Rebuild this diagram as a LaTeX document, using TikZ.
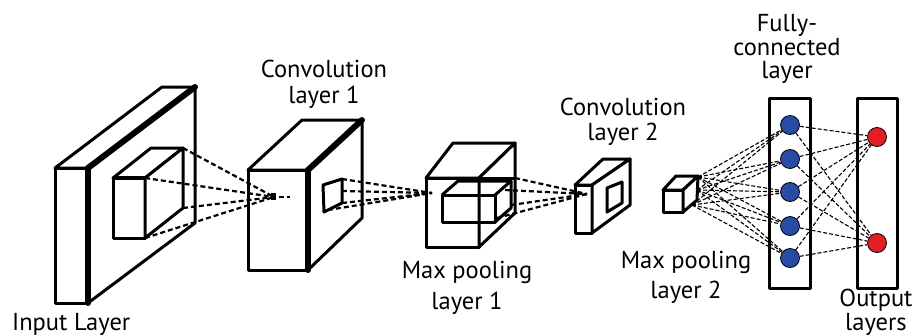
\documentclass[tikz,border=0pt]{standalone}
\usepackage{fontspec}
\setmainfont{PT Sans}
\definecolor{unitblue}{RGB}{42,75,165}
\definecolor{unitred}{RGB}{228,30,38}
\begin{document}
\begin{tikzpicture}[x=1pt,y=-1pt,
  edge/.style={line width=3pt, line join=round},
  heavy/.style={line width=6pt, line cap=round},
  feed/.style={line width=2.2pt, dash pattern=on 5pt off 3pt},
  link/.style={line width=1.1pt, dash pattern=on 4pt off 2pt},
  lbl/.style={anchor=base, inner sep=0pt, font=\fontsize{24.5}{28}\selectfont},
  neuron/.style={circle, draw=black, line width=0.8pt, minimum size=19pt, inner sep=0pt},
]
\useasboundingbox (0,0) rectangle (915,335);

% ---------- input layer: thin slab with a kernel cube on its side ----------
\filldraw[fill=white, edge] (55,168) -- (88,168) -- (88,303) -- (55,303) -- cycle;
\filldraw[fill=white, edge] (55,168) -- (162,87) -- (195,87) -- (88,168) -- cycle;
\filldraw[fill=white, edge] (88,168) -- (195,87) -- (195,223) -- (88,303) -- cycle;
\draw[heavy] (88,168) -- (88,303);
\draw[heavy] (88,168) -- (195,87);
\filldraw[fill=white, edge] (113,178) rectangle (145,238);
\filldraw[fill=white, edge] (113,178) -- (151,148) -- (183,148) -- (145,178) -- cycle;
\filldraw[fill=white, edge] (145,178) -- (183,148) -- (183,208) -- (145,238) -- cycle;
\draw[line width=4.5pt] (113,178) -- (145,178);
\coordinate (k1) at (183,148);
\coordinate (k2) at (145,178);
\coordinate (k3) at (183,208);
\coordinate (k4) at (145,238);

% ---------- convolution layer 1 ----------
\filldraw[fill=white, edge] (248,170) rectangle (308,270);
\filldraw[fill=white, edge] (248,170) -- (302,120) -- (362,120) -- (308,170) -- cycle;
\filldraw[fill=white, edge] (308,170) -- (362,120) -- (362,218) -- (308,270) -- cycle;
\draw[heavy] (308,170) -- (308,270);
\draw[heavy] (308,170) -- (362,120);
\draw[edge] (323,185) -- (342,179) -- (342,203) -- (324,212) -- cycle;
\coordinate (c1) at (342,179);
\coordinate (c2) at (342,191);
\coordinate (c3) at (342,203);
\coordinate (c4) at (328,210);
\coordinate (f1) at (274,197);
\coordinate (f1a) at (279,197);
\coordinate (f1b) at (290,197);

% receptive field of the input kernel
\foreach \k in {k1,k2,k3,k4} \draw[feed] (\k) -- (f1);
\fill (271,193) rectangle (276,200);
\draw[feed] (f1a) -- (f1b);

% ---------- max pooling layer 1 ----------
\filldraw[fill=white, edge] (426,178) rectangle (479,247);
\filldraw[fill=white, edge] (426,178) -- (453,143) -- (515,143) -- (479,178) -- cycle;
\filldraw[fill=white, edge] (479,178) -- (515,143) -- (515,213) -- (479,247) -- cycle;
\draw[edge] (479,178) -- (515,178);
\draw[edge] (442,195) rectangle (495,222);
\draw[edge] (442,195) -- (458,181) -- (511,181) -- (495,195);
\draw[edge] (511,181) -- (511,208) -- (495,222);
\coordinate (f2) at (432,193);
\coordinate (m1) at (515,178);
\coordinate (m2) at (505,190);
\coordinate (m3) at (511,205);
\coordinate (m4) at (497,218);
\foreach \c in {c1,c2,c3,c4} \draw[feed] (\c) -- (f2);

% ---------- convolution layer 2 ----------
\filldraw[fill=white, edge] (575,185) rectangle (592,233);
\filldraw[fill=white, edge] (575,185) -- (603,159) -- (630,159) -- (592,185) -- cycle;
\filldraw[fill=white, edge] (592,185) -- (630,159) -- (630,205) -- (592,233) -- cycle;
\draw[edge] (607,188) -- (622,182) -- (622,203) -- (607,212) -- cycle;
\coordinate (f3) at (587,194);
\foreach \m in {m1,m2,m3,m4} \draw[feed] (\m) -- (f3);

% ---------- max pooling layer 2 ----------
\filldraw[fill=white, edge] (663,190) rectangle (683,212);
\filldraw[fill=white, edge] (663,190) -- (676,176) -- (698,176) -- (683,190) -- cycle;
\filldraw[fill=white, edge] (683,190) -- (698,176) -- (697,200) -- (683,212) -- cycle;
\coordinate (p1) at (698,177);
\coordinate (p2) at (697,190);
\coordinate (p3) at (692,205);

% ---------- fully-connected and output layers ----------
\draw[edge] (769,98) rectangle (810,288);
\draw[edge] (857,98) rectangle (897,288);
\node[neuron, fill=unitblue] (h1) at (790,125) {};
\node[neuron, fill=unitblue] (h2) at (790,159) {};
\node[neuron, fill=unitblue] (h3) at (790,192) {};
\node[neuron, fill=unitblue] (h4) at (790,226) {};
\node[neuron, fill=unitblue] (h5) at (790,258) {};
\node[neuron, fill=unitred] (o1) at (877,137) {};
\node[neuron, fill=unitred] (o2) at (877,243) {};
\foreach \p in {p1,p2,p3}
  \foreach \h in {h1,h2,h3,h4,h5}
    \draw[link] (\p) -- (\h);
\foreach \h in {h1,h2,h3,h4,h5}
  \foreach \o in {o1,o2}
    \draw[link] (\h) -- (\o);

% ---------- labels ----------
\node[lbl, anchor=base west] (tin) at (12,330) {Input Layer};
\node[lbl] (tc1a) at (324,77) {Convolution};
\node[lbl] (tc1b) at (324,103) {layer 1};
\node[lbl] (tm1a) at (467,278) {Max pooling};
\node[lbl] (tm1b) at (467,309) {layer 1};
\node[lbl] (tc2a) at (623,115) {Convolution};
\node[lbl] (tc2b) at (623,140) {layer 2};
\node[lbl] (tm2a) at (686,268) {Max pooling};
\node[lbl] (tm2b) at (686,298) {layer 2};
\node[lbl] (tfa) at (787,31) {Fully-};
\node[lbl] (tfb) at (787,55) {connected};
\node[lbl] (tfc) at (787,78) {layer};
\node[lbl] (toa) at (876,306) {Output};
\node[lbl] (tob) at (876,330) {layers};
\end{tikzpicture}
\end{document}
